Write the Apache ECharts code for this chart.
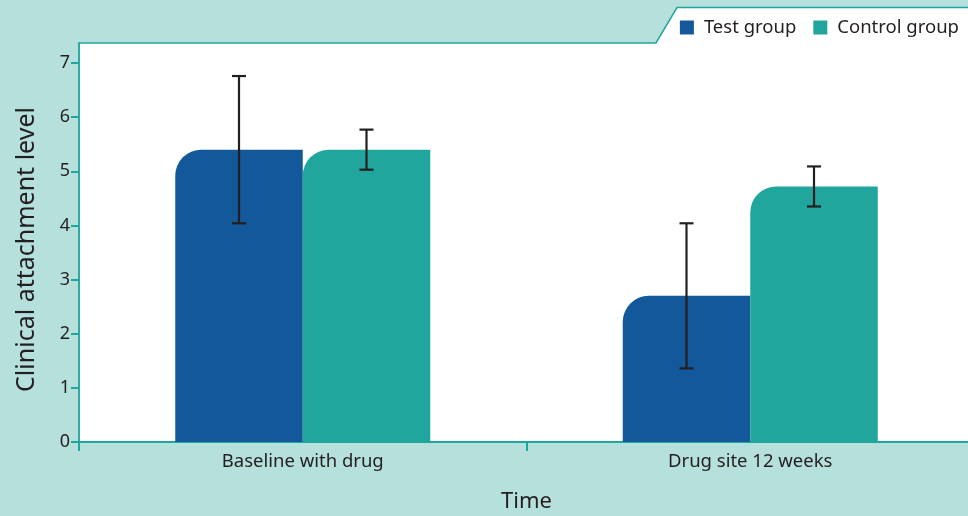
<!DOCTYPE html>
<html>
<head>
<meta charset="utf-8">
<script src="https://cdn.jsdelivr.net/npm/echarts@6/dist/echarts.min.js"></script>
<style>
  html, body { margin: 0; padding: 0; background: #b5e0dc; }
  #chart { width: 968px; height: 516px; }
</style>
</head>
<body>
<div id="chart"></div>
<script>
// Clinical attachment level by time point, with standard-deviation whiskers
const categories = ['Baseline with drug', 'Drug site 12 weeks'];
const seriesNames = ['Test group', 'Control group'];
const testMeans = [5.4, 2.7];
const testErrors = [1.36, 1.34];
const controlMeans = [5.4, 4.72];
const controlErrors = [0.37, 0.37];
const yTicks = [0, 1, 2, 3, 4, 5, 6, 7];

const TEAL = '#20a69d';
const BLUE = '#13589b';
const INK = '#231f20';
const FONT = 'Noto Sans';
const BAR_W = 127.5;

const chart = echarts.init(document.getElementById('chart'));

// whisker drawn at the centre of one bar within a category band
function whiskerSeries(name, means, errors, side) {
  return {
    type: 'custom',
    name: name + ' error',
    z: 5,
    silent: true,
    data: means.map((m, i) => [i, m - errors[i], m + errors[i]]),
    renderItem: function (params, api) {
      const lo = api.coord([api.value(0), api.value(1)]);
      const hi = api.coord([api.value(0), api.value(2)]);
      const x = lo[0] + side * BAR_W / 2;
      const cap = 7;
      const style = { stroke: INK, lineWidth: 2.2 };
      return {
        type: 'group',
        children: [
          { type: 'line', shape: { x1: x, y1: lo[1], x2: x, y2: hi[1] }, style },
          { type: 'line', shape: { x1: x - cap, y1: hi[1], x2: x + cap, y2: hi[1] }, style },
          { type: 'line', shape: { x1: x - cap, y1: lo[1], x2: x + cap, y2: lo[1] }, style }
        ]
      };
    }
  };
}

chart.setOption({
  backgroundColor: '#b5e0dc',
  animation: false,
  textStyle: { fontFamily: FONT, color: INK },
  graphic: [{
    type: 'polygon',
    z: -10,
    silent: true,
    shape: { points: [[79, 442], [79, 43], [656, 43], [677, 7.5], [970, 7.5], [970, 442]] },
    style: { fill: '#ffffff', stroke: TEAL, lineWidth: 1.5 }
  }],
  legend: {
    data: seriesNames,
    top: 13,
    right: 4,
    icon: 'rect',
    itemWidth: 14,
    itemHeight: 14,
    itemGap: 17,
    textStyle: { fontFamily: FONT, fontSize: 18.5, color: INK, padding: [0, 0, 0, 5] }
  },
  grid: { left: 79, width: 895, top: 43, bottom: 74, outerBoundsMode: 'none', containLabel: false },
  xAxis: {
    type: 'category',
    data: categories,
    name: 'Time',
    nameLocation: 'middle',
    nameGap: 49,
    nameTextStyle: { fontFamily: FONT, fontSize: 22, color: INK },
    axisLine: { lineStyle: { color: TEAL, width: 2 } },
    axisTick: { show: true, length: 9, lineStyle: { color: TEAL, width: 2 } },
    axisLabel: { fontFamily: FONT, fontSize: 18.5, color: INK, margin: 10 }
  },
  yAxis: {
    type: 'value',
    min: 0,
    max: 7.37,
    name: 'Clinical attachment level',
    nameLocation: 'middle',
    nameGap: 40,
    nameTextStyle: { fontFamily: FONT, fontSize: 25, color: INK, padding: [0, 14, 0, 0] },
    axisLine: { show: true, lineStyle: { color: TEAL, width: 1.5 } },
    axisTick: { show: true, length: 8, customValues: yTicks, lineStyle: { color: TEAL, width: 2 } },
    axisLabel: { customValues: yTicks, fontFamily: FONT, fontSize: 18, color: INK, margin: 9 },
    splitLine: { show: false }
  },
  series: [
    {
      name: seriesNames[0],
      type: 'bar',
      data: testMeans,
      barWidth: BAR_W,
      barGap: '0%',
      itemStyle: { color: BLUE, borderRadius: [26, 0, 0, 0] }
    },
    {
      name: seriesNames[1],
      type: 'bar',
      data: controlMeans,
      barWidth: BAR_W,
      barGap: '0%',
      itemStyle: { color: TEAL, borderRadius: [26, 0, 0, 0] }
    },
    whiskerSeries(seriesNames[0], testMeans, testErrors, -1),
    whiskerSeries(seriesNames[1], controlMeans, controlErrors, 1)
  ]
});
</script>
</body>
</html>
